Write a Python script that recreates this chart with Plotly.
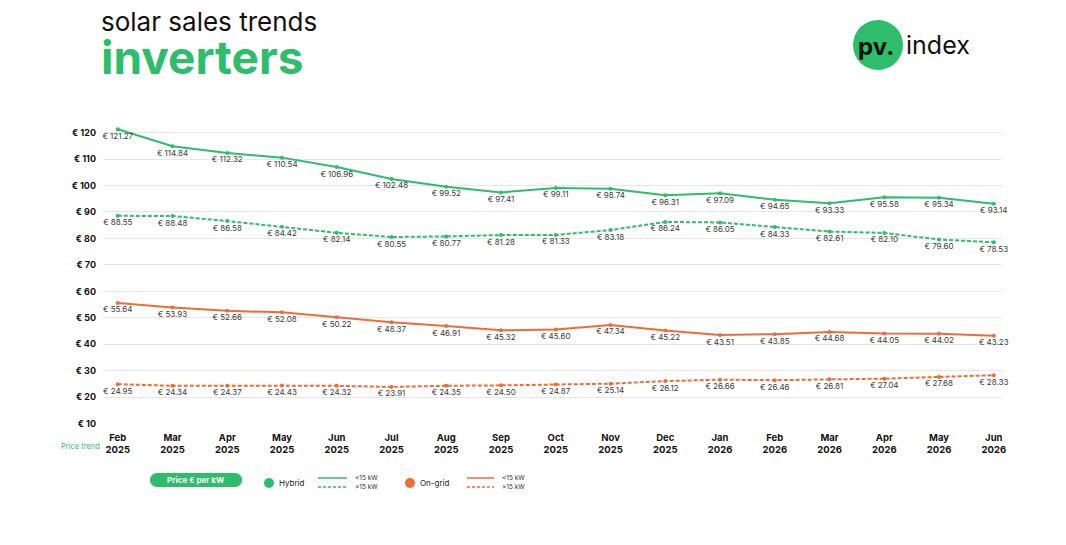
import plotly.graph_objects as go

# ---------------- data ----------------
months = ["Feb", "Mar", "Apr", "May", "Jun", "Jul", "Aug", "Sep", "Oct", "Nov", "Dec",
          "Jan", "Feb", "Mar", "Apr", "May", "Jun"]
years = ["2025"] * 11 + ["2026"] * 6
categories = [f"{m}<br>{y}" for m, y in zip(months, years)]

hybrid_lt15 = [121.27, 114.84, 112.32, 110.54, 106.96, 102.48, 99.52, 97.41, 99.11, 98.74,
               96.31, 97.09, 94.65, 93.33, 95.58, 95.34, 93.14]
hybrid_gt15 = [88.55, 88.48, 86.58, 84.42, 82.14, 80.55, 80.77, 81.28, 81.33, 83.18,
               86.24, 86.05, 84.33, 82.61, 82.10, 79.60, 78.53]
ongrid_lt15 = [55.64, 53.93, 52.66, 52.08, 50.22, 48.37, 46.91, 45.32, 45.60, 47.34,
               45.22, 43.51, 43.85, 44.68, 44.05, 44.02, 43.23]
ongrid_gt15 = [24.95, 24.34, 24.37, 24.43, 24.32, 23.91, 24.35, 24.50, 24.87, 25.14,
               26.12, 26.66, 26.46, 26.81, 27.04, 27.68, 28.33]

y_ticks = [10, 20, 30, 40, 50, 60, 70, 80, 90, 100, 110, 120]
y_ticktext = [f"€ {v}" for v in y_ticks]

GREEN = "#2dbd6b"
ORANGE = "#f26b36"
FONT = "Inter"

# ---------------- layout geometry ----------------
W, H = 1066, 545
GRID_TOP_PX, GRID_BOTTOM_PX = 133, 424      # pixel rows of the 120 and 10 gridlines
Y_MIN, Y_MAX = 9.9, 124.0
UNIT = (GRID_BOTTOM_PX - GRID_TOP_PX) / (120 - 10)
L, R = 103, 64
T = round(GRID_TOP_PX - (Y_MAX - 120) * UNIT)
B = round(H - (GRID_BOTTOM_PX + (10 - Y_MIN) * UNIT))
PW, PH = W - L - R, H - T - B


def px(x):
    return (x - L) / PW


def py(y):
    return (H - B - y) / PH


fig = go.Figure()


def add_series(values, color, dash):
    fig.add_trace(go.Scatter(
        x=categories, y=values,
        mode="lines+markers+text",
        line=dict(color=color, width=2, dash=dash),
        marker=dict(color=color, size=4),
        text=[f"€ {v:.2f}" for v in values],
        textposition="bottom center",
        textfont=dict(family=FONT, size=8, color="#3a3a3a"),
        cliponaxis=False,
        showlegend=False,
        hoverinfo="x+y",
    ))


add_series(hybrid_lt15, GREEN, "solid")
add_series(hybrid_gt15, GREEN, "4px,2px")
add_series(ongrid_lt15, ORANGE, "solid")
add_series(ongrid_gt15, ORANGE, "4px,2px")

shapes = []
annotations = []

# title (one text block, two lines)
annotations.append(dict(
    text=("<span style='font-size:26px;color:#111111'>solar sales trends</span><br>"
          f"<span style='font-size:46px;color:{GREEN};font-weight:bold'>inverters</span>"),
    xref="paper", yref="paper", x=px(99), y=py(4), xanchor="left", yanchor="top",
    align="left", showarrow=False, font=dict(family=FONT, size=33, color="#111111")))

# logo
shapes.append(dict(type="circle", xref="paper", yref="paper",
                   x0=px(853), x1=px(903), y0=py(70), y1=py(20),
                   fillcolor=GREEN, line=dict(width=0)))
annotations.append(dict(text="<b>pv.</b>", xref="paper", yref="paper",
                        x=px(856), y=py(46), xanchor="left", yanchor="middle",
                        showarrow=False, font=dict(family=FONT, size=24, color="#111111")))
annotations.append(dict(text="index", xref="paper", yref="paper",
                        x=px(904), y=py(45), xanchor="left", yanchor="middle",
                        showarrow=False, font=dict(family=FONT, size=25, color="#111111")))

# "Price trend"
annotations.append(dict(text="Price trend", xref="paper", yref="paper",
                        x=px(80), y=py(446), xanchor="center", yanchor="middle",
                        showarrow=False, font=dict(family=FONT, size=7.5, color=GREEN)))

# legend pill
x0, x1, y0, y1, r = 150, 242, 473, 487, 7
k = 0.5523 * r


def P(x, y):
    return f"{px(x)},{py(y)}"


pill = (f"M {P(x0 + r, y0)} L {P(x1 - r, y0)} "
        f"C {P(x1 - r + k, y0)} {P(x1, y0 + r - k)} {P(x1, y0 + r)} "
        f"C {P(x1, y0 + r + k)} {P(x1 - r + k, y1)} {P(x1 - r, y1)} "
        f"L {P(x0 + r, y1)} "
        f"C {P(x0 + r - k, y1)} {P(x0, y0 + r + k)} {P(x0, y0 + r)} "
        f"C {P(x0, y0 + r - k)} {P(x0 + r - k, y0)} {P(x0 + r, y0)} Z")
shapes.append(dict(type="path", xref="paper", yref="paper", path=pill,
                   fillcolor=GREEN, line=dict(width=0)))
annotations.append(dict(text="<b>Price € per kW</b>", xref="paper", yref="paper",
                        x=px(196), y=py(480), xanchor="center", yanchor="middle",
                        showarrow=False, font=dict(family=FONT, size=8, color="white")))


def legend_group(cx, label, lx0, lx1, color):
    shapes.append(dict(type="circle", xref="paper", yref="paper",
                       x0=px(cx - 5), x1=px(cx + 5), y0=py(488), y1=py(478),
                       fillcolor=color, line=dict(width=0)))
    annotations.append(dict(text=label, xref="paper", yref="paper",
                            x=px(cx + 8), y=py(483), xanchor="left", yanchor="middle",
                            showarrow=False, font=dict(family=FONT, size=8, color="#222222")))
    shapes.append(dict(type="line", xref="paper", yref="paper",
                       x0=px(lx0), x1=px(lx1), y0=py(478), y1=py(478),
                       line=dict(color=color, width=1.5)))
    shapes.append(dict(type="line", xref="paper", yref="paper",
                       x0=px(lx0), x1=px(lx1), y0=py(487), y1=py(487),
                       line=dict(color=color, width=1.5, dash="3px,2px")))
    annotations.append(dict(text="&lt;15 kW", xref="paper", yref="paper",
                            x=px(lx1 + 6), y=py(478), xanchor="left", yanchor="middle",
                            showarrow=False, font=dict(family=FONT, size=6.5, color="#333333")))
    annotations.append(dict(text="&gt;15 kW", xref="paper", yref="paper",
                            x=px(lx1 + 6), y=py(487), xanchor="left", yanchor="middle",
                            showarrow=False, font=dict(family=FONT, size=6.5, color="#333333")))


legend_group(269, "Hybrid", 318, 347, GREEN)
legend_group(410, "On-grid", 467, 494, ORANGE)

fig.update_layout(
    width=W, height=H, autosize=False,
    margin=dict(l=L, r=R, t=T, b=B, pad=0),
    paper_bgcolor="white", plot_bgcolor="white",
    font=dict(family=FONT),
    shapes=shapes, annotations=annotations,
    showlegend=False,
    xaxis=dict(
        type="category", range=[-0.27, 16.15],
        showgrid=False, zeroline=False, showline=False,
        ticks="", ticklabelstandoff=6,
        tickfont=dict(family=FONT, size=9.5, color="#111111", weight="bold"),
    ),
    yaxis=dict(
        range=[Y_MIN, Y_MAX], tickvals=y_ticks, ticktext=y_ticktext,
        showgrid=True, gridcolor="#e6e6e6", gridwidth=1,
        zeroline=False, showline=False, ticks="", ticklabelstandoff=6,
        tickfont=dict(family=FONT, size=9, color="#111111", weight="bold"),
    ),
)

fig.write_html("out.html")
